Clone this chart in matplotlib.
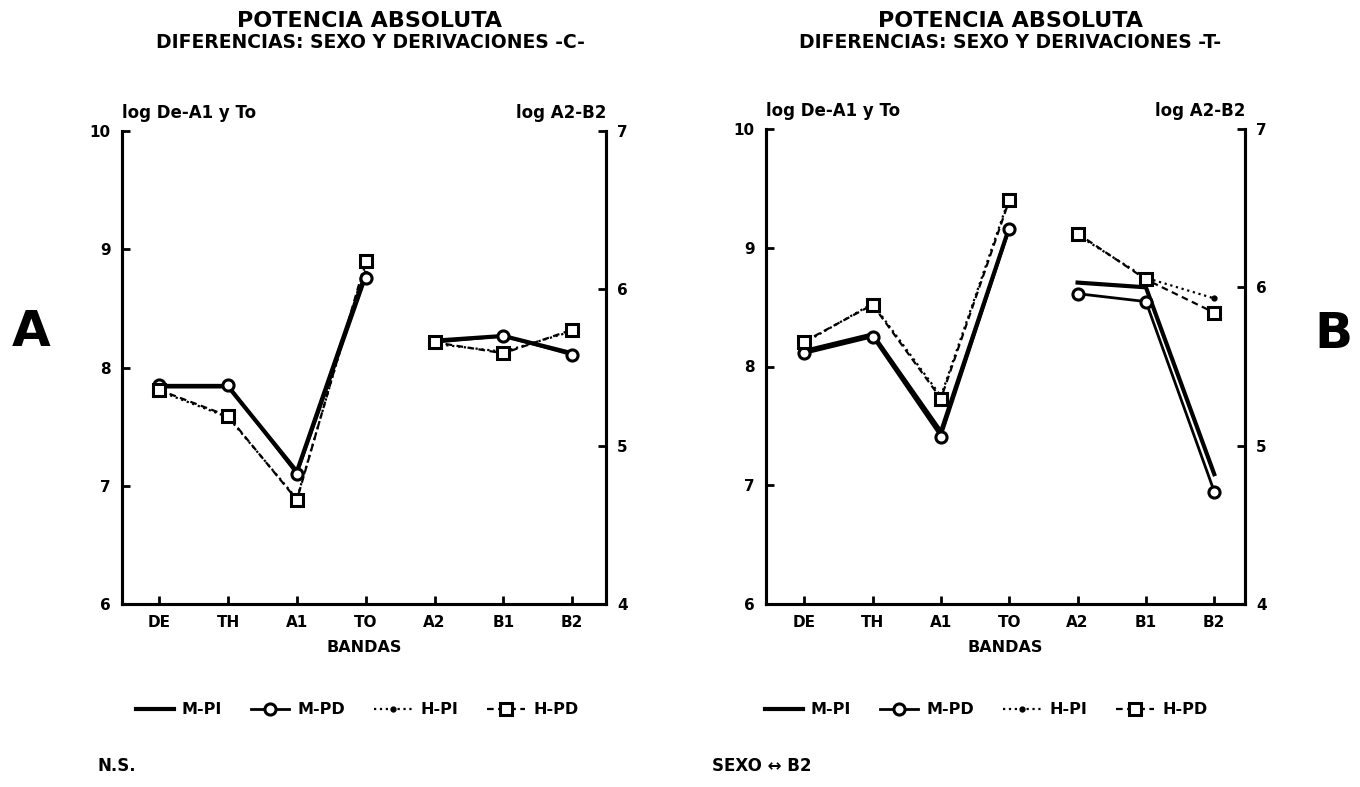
import matplotlib
matplotlib.use("Agg")
import matplotlib.pyplot as plt

plt.rcParams['font.family'] = ['DejaVu Sans']
plt.rcParams['font.weight'] = 'bold'

# Bands: first four read on the left axis, last three on the right axis
bands_left = ["DE", "TH", "A1", "TO"]
bands_right = ["A2", "B1", "B2"]
series = ["M-PI", "M-PD", "H-PI", "H-PD"]

# Panel A (derivaciones C)
a_mpi_left = [7.84, 7.84, 7.12, 8.80]
a_mpd_left = [7.85, 7.85, 7.10, 8.76]
a_hpi_left = [7.80, 7.58, 6.89, 8.88]
a_hpd_left = [7.81, 7.59, 6.88, 8.90]
a_mpi_right = [5.67, 5.70, 5.59]
a_mpd_right = [5.66, 5.70, 5.58]
a_hpi_right = [5.65, 5.60, 5.73]
a_hpd_right = [5.66, 5.59, 5.74]

# Panel B (derivaciones T)
b_mpi_left = [8.13, 8.27, 7.45, 9.17]
b_mpd_left = [8.11, 8.25, 7.41, 9.16]
b_hpi_left = [8.20, 8.53, 7.75, 9.42]
b_hpd_left = [8.21, 8.52, 7.73, 9.40]
b_mpi_right = [6.03, 6.00, 4.82]
b_mpd_right = [5.96, 5.91, 4.71]
b_hpi_right = [6.33, 6.06, 5.93]
b_hpd_right = [6.34, 6.05, 5.84]

left_ticks = [6, 7, 8, 9, 10]
right_ticks = [4, 5, 6, 7]

styles = {
    "M-PI": dict(linestyle='-', linewidth=3.0, marker=None),
    "M-PD": dict(linestyle='-', linewidth=2.0, marker='o', markersize=8,
                 markerfacecolor='white', markeredgewidth=2.2),
    "H-PI": dict(linestyle=':', linewidth=1.6, marker='.', markersize=7),
    "H-PD": dict(linestyle=(0, (3, 2)), linewidth=1.6, marker='s', markersize=8,
                 markerfacecolor='white', markeredgewidth=2.2),
}

W, H = 1360, 787
fig = plt.figure(figsize=(W / 100, H / 100), dpi=100)
fig.patch.set_facecolor('white')


def fx(px):
    return px / W


def fy(py):
    return 1 - py / H


def panel(rect, left_data, right_data, xlim, tag, title_x, legend_x, foot_x, foot_text):
    ax = fig.add_axes(rect)
    ax2 = ax.twinx()
    xs_l = list(range(len(bands_left)))
    xs_r = [len(bands_left) + i for i in range(len(bands_right))]
    handles = []
    for name in series:
        st = styles[name]
        ln, = ax.plot(xs_l, left_data[name], color='black', **st)
        ax2.plot(xs_r, right_data[name], color='black', **st)
        handles.append(ln)
    ax.set_xlim(*xlim)
    ax.set_ylim(6, 10)
    ax2.set_ylim(4, 7)
    ax.set_xticks(xs_l + xs_r)
    ax.set_xticklabels(bands_left + bands_right)
    ax.set_yticks(left_ticks)
    ax2.set_yticks(right_ticks)
    for a in (ax, ax2):
        for s in a.spines.values():
            s.set_linewidth(2.2)
        a.spines['top'].set_visible(False)
        a.tick_params(direction='in', length=6, width=2.0, labelsize=11, pad=8)
        for lab in a.get_xticklabels() + a.get_yticklabels():
            lab.set_fontweight('heavy')
    ax.set_xlabel("BANDAS", fontsize=11.5, fontweight='heavy', labelpad=7)
    ax.text(0.0, 1.02, "log De-A1 y To", transform=ax.transAxes, ha='left',
            va='bottom', fontsize=12, fontweight='heavy')
    ax.text(1.0, 1.02, "log A2-B2", transform=ax.transAxes, ha='right',
            va='bottom', fontsize=12, fontweight='heavy')
    fig.text(fx(title_x), fy(21), "POTENCIA ABSOLUTA", ha='center', va='center',
             fontsize=16, fontweight='heavy')
    fig.text(fx(title_x), fy(42), "DIFERENCIAS: SEXO Y DERIVACIONES " + tag,
             ha='center', va='center', fontsize=13.5, fontweight='heavy')
    fig.legend(handles, series, loc='center', bbox_to_anchor=(fx(legend_x), fy(710)),
               ncol=4, frameon=False, handlelength=2.4, columnspacing=1.8,
               handletextpad=0.5, prop=dict(size=11.5, weight='heavy'))
    fig.text(fx(foot_x), fy(766), foot_text, ha='left', va='center',
             fontsize=12, fontweight='heavy')
    return ax


panel([fx(122), fy(604), (606 - 122) / W, (604 - 131) / H],
      {"M-PI": a_mpi_left, "M-PD": a_mpd_left, "H-PI": a_hpi_left, "H-PD": a_hpd_left},
      {"M-PI": a_mpi_right, "M-PD": a_mpd_right, "H-PI": a_hpi_right, "H-PD": a_hpd_right},
      (-0.54, 6.49), "-C-", 370, 357, 98, "N.S.")

panel([fx(766), fy(604), (1245 - 766) / W, (604 - 129) / H],
      {"M-PI": b_mpi_left, "M-PD": b_mpd_left, "H-PI": b_hpi_left, "H-PD": b_hpd_left},
      {"M-PI": b_mpi_right, "M-PD": b_mpd_right, "H-PI": b_hpi_right, "H-PD": b_hpd_right},
      (-0.56, 6.45), "-T-", 1010, 986, 712, "SEXO \u2194 B2")

fig.text(fx(31), fy(332), "A", ha='center', va='center', fontsize=36, fontweight='heavy')
fig.text(fx(1333), fy(334), "B", ha='center', va='center', fontsize=36, fontweight='heavy')

fig.savefig("out.png", dpi=100, facecolor='white')
